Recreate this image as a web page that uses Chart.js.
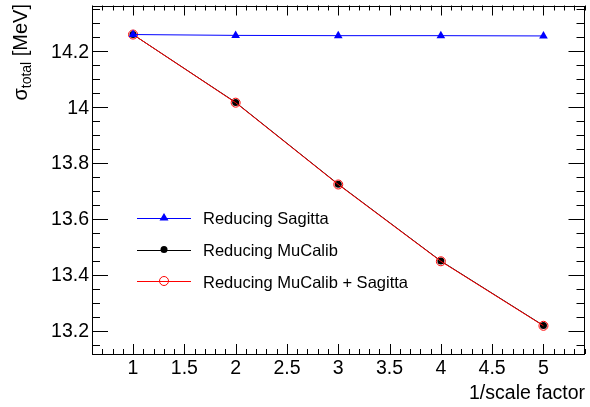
<!DOCTYPE html>
<html>
<head>
<meta charset="utf-8">
<script src="https://cdn.jsdelivr.net/npm/chart.js@4.4.0/dist/chart.umd.min.js"></script>
<style>
  html, body { margin: 0; padding: 0; background: #fff; }
  #wrap { width: 590px; height: 407px; }
</style>
</head>
<body>
<div id="wrap"><canvas id="myChart" width="590" height="407"></canvas></div>
<script>
// data
const scaleFactor = [1, 2, 3, 4, 5];
const sagitta = [14.260, 14.257, 14.256, 14.256, 14.255];
const muCalib = [14.260, 14.017, 13.724, 13.449, 13.218];
const muCalibSagitta = [14.260, 14.016, 13.723, 13.448, 13.217];

// axis ticks
const xTicks = [1, 1.5, 2, 2.5, 3, 3.5, 4, 4.5, 5];
const xTickLabels = ['1', '1.5', '2', '2.5', '3', '3.5', '4', '4.5', '5'];
const yTicks = [13.2, 13.4, 13.6, 13.8, 14, 14.2];
const yTickLabels = ['13.2', '13.4', '13.6', '13.8', '14', '14.2'];
const legendLabels = ['Reducing Sagitta', 'Reducing MuCalib', 'Reducing MuCalib + Sagitta'];

const FONT = '"Liberation Sans", Arial, Helvetica, sans-serif';

function toPoints(ys) {
    return scaleFactor.map(function(x, i) { return {x: x, y: ys[i]}; });
}

// draw a marker like the datasets use
function drawMarker(ctx, kind, x, y) {
    ctx.save();
    ctx.lineWidth = 1;
    if (kind === 'tri') {
        ctx.fillStyle = '#0000ff';
        ctx.beginPath();
        ctx.moveTo(x, y - 4.5);
        ctx.lineTo(x + 4.5, y + 3);
        ctx.lineTo(x - 4.5, y + 3);
        ctx.closePath();
        ctx.fill();
    } else if (kind === 'dot') {
        ctx.fillStyle = '#000';
        ctx.beginPath();
        ctx.arc(x, y, 3.5, 0, Math.PI * 2);
        ctx.fill();
    } else {
        ctx.strokeStyle = '#ff0000';
        ctx.beginPath();
        ctx.arc(x, y, 4.5, 0, Math.PI * 2);
        ctx.stroke();
    }
    ctx.restore();
}

const rootAxes = {
    id: 'rootAxes',
    afterDraw(chart) {
        const ctx = chart.ctx;
        const a = chart.chartArea;
        const xs = chart.scales.x;
        const ys = chart.scales.y;
        ctx.save();
        ctx.strokeStyle = '#000';
        ctx.lineWidth = 1;
        // frame
        ctx.strokeRect(Math.round(a.left) + 0.5, Math.round(a.top) + 0.5,
            Math.round(a.right - a.left) - 1, Math.round(a.bottom - a.top) - 1);

        ctx.beginPath();
        // x ticks (bottom and top), minor every 0.1
        for (let i = 6; i <= 54; i++) {
            const v = i / 10;
            const px = Math.round(xs.getPixelForValue(v)) + 0.5;
            const major = (i % 5 === 0);
            const len = major ? 10 : 5;
            ctx.moveTo(px, a.bottom);
            ctx.lineTo(px, a.bottom - len);
            ctx.moveTo(px, a.top);
            ctx.lineTo(px, a.top + len);
        }
        // y ticks (left and right), minor every 0.05
        for (let i = 263; i <= 287; i++) {
            const v = i / 20;
            const py = Math.round(ys.getPixelForValue(v)) + 0.5;
            const major = (i % 4 === 0);
            const len = major ? 16 : 8;
            ctx.moveTo(a.left, py);
            ctx.lineTo(a.left + len, py);
            ctx.moveTo(a.right, py);
            ctx.lineTo(a.right - len, py);
        }
        ctx.stroke();

        // tick labels
        ctx.fillStyle = '#000';
        ctx.font = '19.5px ' + FONT;
        ctx.textAlign = 'center';
        ctx.textBaseline = 'alphabetic';
        xTicks.forEach(function(v, i) {
            ctx.fillText(xTickLabels[i], xs.getPixelForValue(v), 374);
        });
        ctx.textAlign = 'right';
        ctx.textBaseline = 'middle';
        yTicks.forEach(function(v, i) {
            ctx.fillText(yTickLabels[i], 89, ys.getPixelForValue(v) + 1);
        });

        // x title
        ctx.textAlign = 'right';
        ctx.textBaseline = 'alphabetic';
        ctx.fillText('1/scale factor', 585, 399);

        // y title, rotated, right aligned at top
        ctx.save();
        ctx.translate(27, 4);
        ctx.rotate(-Math.PI / 2);
        ctx.textAlign = 'left';
        ctx.textBaseline = 'alphabetic';
        const big = '20px ' + FONT;
        const small = '14px ' + FONT;
        ctx.font = big;
        const w1 = ctx.measureText('\u03c3').width;
        const w3 = ctx.measureText(' [MeV]').width;
        ctx.font = small;
        const w2 = ctx.measureText('total').width;
        let x0 = -(w1 + w2 + w3);
        ctx.font = big;
        ctx.fillText('\u03c3', x0, 0);
        ctx.font = small;
        ctx.fillText('total', x0 + w1, 4);
        ctx.font = big;
        ctx.fillText(' [MeV]', x0 + w1 + w2, 0);
        ctx.restore();

        // legend
        const rows = [217.5, 249.5, 281];
        const colors = ['#0000ff', '#000000', '#ff0000'];
        const kinds = ['tri', 'dot', 'ring'];
        ctx.font = '16.5px ' + FONT;
        ctx.textAlign = 'left';
        ctx.textBaseline = 'alphabetic';
        rows.forEach(function(y, i) {
            ctx.strokeStyle = colors[i];
            ctx.beginPath();
            ctx.moveTo(137, Math.round(y) + 0.5);
            ctx.lineTo(191, Math.round(y) + 0.5);
            ctx.stroke();
            drawMarker(ctx, kinds[i], 164, y);
            ctx.fillStyle = '#000';
            ctx.fillText(legendLabels[i], 203, y + 6.5);
        });
        ctx.restore();
    }
};

const config = {
    type: 'scatter',
    data: {
        datasets: [{
            label: legendLabels[0],
            data: toPoints(sagitta),
            showLine: true,
            borderColor: '#0000ff',
            backgroundColor: '#0000ff',
            borderWidth: 1,
            pointStyle: 'triangle',
            pointRadius: 5,
            pointBorderWidth: 0
        }, {
            label: legendLabels[2],
            data: toPoints(muCalibSagitta),
            showLine: true,
            borderColor: '#ff0000',
            backgroundColor: 'rgba(0,0,0,0)',
            borderWidth: 1,
            pointStyle: 'circle',
            pointRadius: 4.5,
            pointBorderWidth: 1
        }, {
            label: legendLabels[1],
            data: toPoints(muCalib),
            showLine: true,
            borderColor: '#000000',
            backgroundColor: '#000000',
            borderWidth: 1,
            pointStyle: 'circle',
            pointRadius: 3.5,
            pointBorderWidth: 0
        }]
    },
    options: {
        responsive: false,
        animation: false,
        devicePixelRatio: 1,
        layout: { padding: { left: 92, top: 5, right: 3, bottom: 53 } },
        plugins: { legend: { display: false }, tooltip: { enabled: false } },
        scales: {
            x: { type: 'linear', min: 0.6, max: 5.4, display: false },
            y: { type: 'linear', min: 13.116, max: 14.364, display: false }
        }
    },
    plugins: [rootAxes]
};

const myChart = new Chart(document.getElementById('myChart'), config);
</script>
</body>
</html>
